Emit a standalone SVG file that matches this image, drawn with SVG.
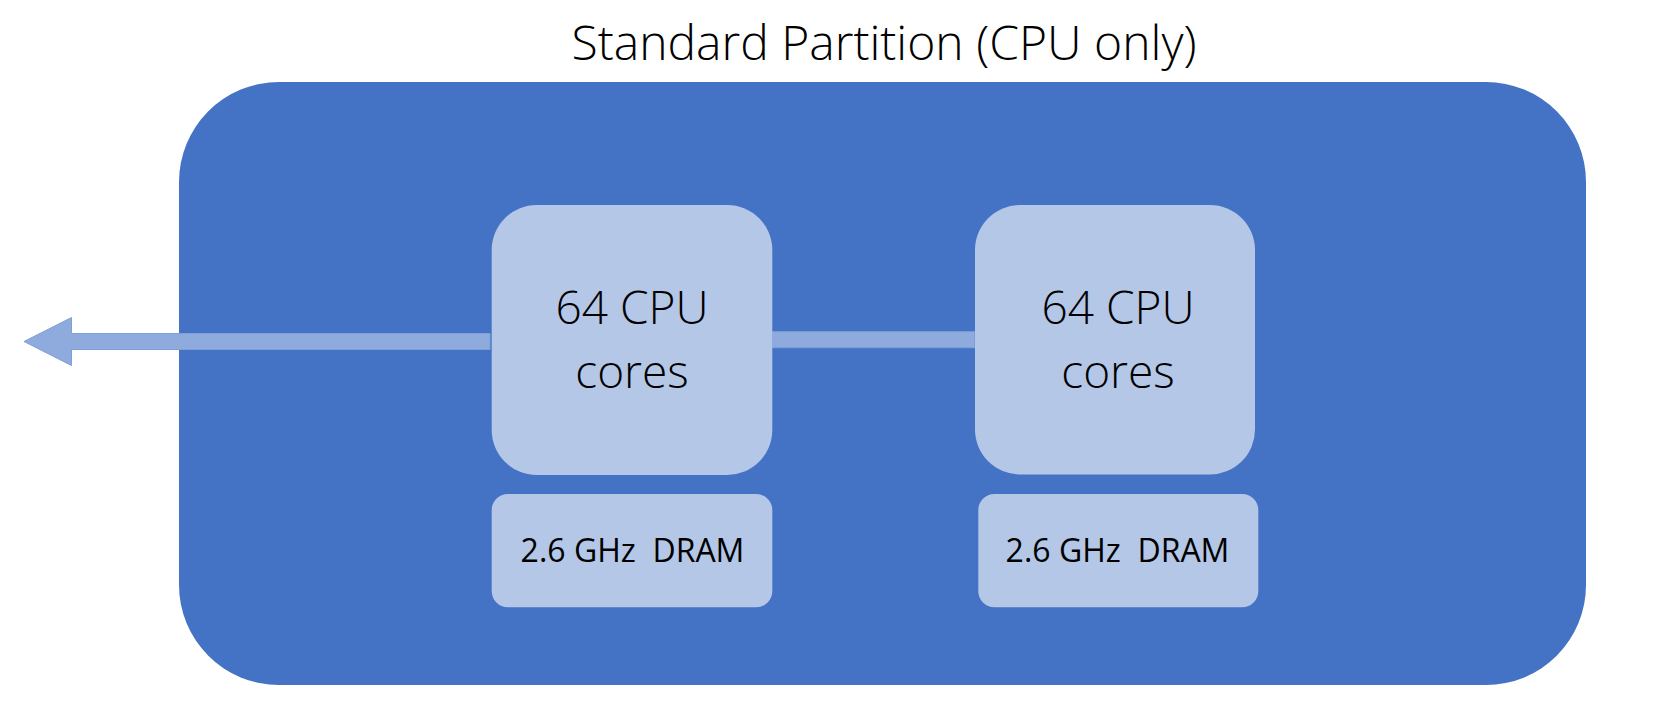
<svg xmlns="http://www.w3.org/2000/svg" width="1659" height="708" viewBox="0 0 1659 708">
<style>
.cpu{fill:#B4C7E7}
.t{font-family:"Open Sans","Liberation Sans",sans-serif;fill:#000;text-anchor:middle}
.big{font-size:46px;font-weight:350}
.small{font-size:32px;font-weight:380;white-space:pre}
.title{font-size:48px;font-weight:350}
.link{fill:#8FAADC;stroke:#7F9FD8;stroke-width:1}
</style>
<rect width="1659" height="708" fill="#FFFFFF"/>
<g id="partition">
<text class="t title" x="884" y="60">Standard Partition (CPU only)</text>
<rect x="179" y="82" width="1407" height="603" rx="100" ry="100" fill="#4472C4"/>
</g>
<g id="connectors">
<path class="link" d="M24,341.5 L71.5,317.5 L71.5,333.5 L490,333.5 L490,349.5 L71.5,349.5 L71.5,365.5 Z"/>
<rect class="link" x="772.5" y="331.7" width="202" height="16"/>
</g>
<g id="cpu1">
<rect class="cpu" x="491.7" y="205" width="280.6" height="270" rx="45" ry="45"/>
<text class="t big" x="632" y="324">64 CPU</text>
<text class="t big" x="632" y="388">cores</text>
</g>
<g id="dram1">
<rect class="cpu" x="491.7" y="494" width="280.6" height="113.3" rx="16" ry="16"/>
<text class="t small" x="632.5" y="561.5" xml:space="preserve">2.6 GHz  DRAM</text>
</g>
<g id="cpu2">
<rect class="cpu" x="975" y="205" width="280" height="269.5" rx="45" ry="45"/>
<text class="t big" x="1118" y="323.5">64 CPU</text>
<text class="t big" x="1118" y="387.5">cores</text>
</g>
<g id="dram2">
<rect class="cpu" x="978.3" y="494" width="280" height="113.3" rx="16" ry="16"/>
<text class="t small" x="1117.5" y="561.5" xml:space="preserve">2.6 GHz  DRAM</text>
</g>
</svg>
